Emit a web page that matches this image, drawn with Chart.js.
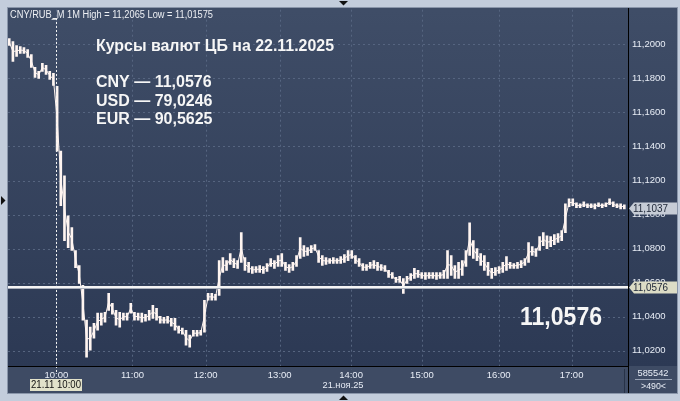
<!DOCTYPE html>
<html>
<head>
<meta charset="utf-8">
<script src="https://cdn.jsdelivr.net/npm/chart.js@4/dist/chart.umd.min.js"></script>
<style>
  html, body { margin: 0; padding: 0; background: #c3cddc; }
  canvas { display: block; }
</style>
</head>
<body>
<canvas id="c" width="680" height="401"></canvas>
<script>
// 1-minute CNY/RUB bars, sampled every 3rd bar (high / low)
const barStep = 3;
const highs = [
  11.2034, 11.2016, 11.1993, 11.1987, 11.1981, 11.1969, 11.1940, 11.1864, 11.1841, 11.1888,
  11.1876, 11.1841, 11.1829, 11.1753, 11.1373, 11.1227, 11.0993, 11.0923, 11.0789, 11.0701,
  11.0584, 11.0380, 11.0339, 11.0362, 11.0421, 11.0421, 11.0426, 11.0537, 11.0479, 11.0438,
  11.0426, 11.0421, 11.0421, 11.0479, 11.0426, 11.0421, 11.0421, 11.0415, 11.0438, 11.0467,
  11.0450, 11.0403, 11.0397, 11.0403, 11.0391, 11.0391, 11.0345, 11.0333, 11.0321, 11.0292,
  11.0321, 11.0321, 11.0321, 11.0497, 11.0537, 11.0537, 11.0532, 11.0730, 11.0748, 11.0730,
  11.0771, 11.0742, 11.0730, 11.0894, 11.0748, 11.0719, 11.0695, 11.0695, 11.0701, 11.0695,
  11.0713, 11.0742, 11.0730, 11.0760, 11.0771, 11.0719, 11.0707, 11.0719, 11.0760, 11.0865,
  11.0818, 11.0806, 11.0818, 11.0824, 11.0789, 11.0760, 11.0748, 11.0742, 11.0748, 11.0742,
  11.0754, 11.0765, 11.0789, 11.0789, 11.0760, 11.0742, 11.0713, 11.0707, 11.0719, 11.0730,
  11.0719, 11.0707, 11.0701, 11.0672, 11.0660, 11.0631, 11.0637, 11.0625, 11.0637, 11.0654,
  11.0684, 11.0672, 11.0660, 11.0660, 11.0660, 11.0660, 11.0660, 11.0660, 11.0672, 11.0789,
  11.0760, 11.0701, 11.0719, 11.0730, 11.0789, 11.0952, 11.0847, 11.0800, 11.0771, 11.0760,
  11.0719, 11.0684, 11.0689, 11.0695, 11.0719, 11.0754, 11.0719, 11.0713, 11.0719, 11.0730,
  11.0742, 11.0836, 11.0812, 11.0800, 11.0871, 11.0894, 11.0876, 11.0871, 11.0882, 11.0888,
  11.0906, 11.1063, 11.1093, 11.1093, 11.1069, 11.1063, 11.1075, 11.1063, 11.1063, 11.1063,
  11.1069, 11.1063, 11.1069, 11.1093, 11.1075, 11.1063, 11.1063, 11.1058
];
const lows = [
  11.1993, 11.1899, 11.1929, 11.1946, 11.1946, 11.1923, 11.1864, 11.1806, 11.1800, 11.1841,
  11.1823, 11.1794, 11.1759, 11.1373, 11.1052, 11.0847, 11.0806, 11.0789, 11.0689, 11.0596,
  11.0380, 11.0163, 11.0204, 11.0274, 11.0321, 11.0350, 11.0368, 11.0438, 11.0415, 11.0350,
  11.0339, 11.0380, 11.0380, 11.0421, 11.0380, 11.0380, 11.0368, 11.0374, 11.0380, 11.0391,
  11.0380, 11.0362, 11.0362, 11.0362, 11.0345, 11.0321, 11.0304, 11.0298, 11.0234, 11.0222,
  11.0286, 11.0286, 11.0292, 11.0310, 11.0497, 11.0497, 11.0497, 11.0526, 11.0660, 11.0672,
  11.0707, 11.0689, 11.0684, 11.0719, 11.0672, 11.0660, 11.0654, 11.0660, 11.0660, 11.0654,
  11.0666, 11.0695, 11.0684, 11.0695, 11.0695, 11.0672, 11.0660, 11.0672, 11.0695, 11.0742,
  11.0754, 11.0760, 11.0777, 11.0789, 11.0719, 11.0701, 11.0707, 11.0713, 11.0713, 11.0713,
  11.0713, 11.0719, 11.0730, 11.0742, 11.0713, 11.0695, 11.0672, 11.0672, 11.0684, 11.0684,
  11.0672, 11.0672, 11.0666, 11.0631, 11.0625, 11.0602, 11.0602, 11.0537, 11.0596, 11.0613,
  11.0625, 11.0631, 11.0625, 11.0619, 11.0625, 11.0625, 11.0619, 11.0625, 11.0625, 11.0625,
  11.0643, 11.0625, 11.0625, 11.0643, 11.0695, 11.0760, 11.0742, 11.0730, 11.0701, 11.0672,
  11.0643, 11.0625, 11.0643, 11.0654, 11.0660, 11.0672, 11.0684, 11.0684, 11.0684, 11.0689,
  11.0701, 11.0719, 11.0760, 11.0754, 11.0789, 11.0818, 11.0800, 11.0812, 11.0824, 11.0836,
  11.0847, 11.0894, 11.1046, 11.1052, 11.1040, 11.1040, 11.1046, 11.1040, 11.1040, 11.1034,
  11.1046, 11.1040, 11.1046, 11.1058, 11.1046, 11.1040, 11.1034, 11.1034
];

// time axis: hour labels and the bar number where each hour starts
const hourLabels = ['10:00', '11:00', '12:00', '13:00', '14:00', '15:00', '16:00', '17:00'];
const hourBars = [38.4, 100.4, 160, 220.3, 278.4, 336.2, 398.7, 458];
const priceTicks = [11.02, 11.04, 11.06, 11.08, 11.10, 11.12, 11.14, 11.16, 11.18, 11.20];

const cbRate = 11.0576;
const lastPrice = 11.1037;
const title = 'Курсы валют ЦБ на 22.11.2025';
const currencies = ['CNY', 'USD', 'EUR'];
const cbRates = ['11,0576', '79,0246', '90,5625'];

const FONT = '"Liberation Sans", Arial, sans-serif';
const fmt = v => v.toFixed(4).replace('.', ',');

const bars = highs.map((h, i) => ({ x: i * barStep, y: [lows[i], h] }));
const mids = highs.map((h, i) => ({ x: i * barStep, y: (lows[i] + h) / 2 }));

function tri(ctx, pts, color) {
    ctx.fillStyle = color;
    ctx.beginPath();
    ctx.moveTo(pts[0], pts[1]);
    ctx.lineTo(pts[2], pts[3]);
    ctx.lineTo(pts[4], pts[5]);
    ctx.closePath();
    ctx.fill();
}

const background = {
    id: 'background',
    beforeDraw(chart) {
        const ctx = chart.ctx;
        const a = chart.chartArea;
        ctx.save();
        ctx.fillStyle = '#c3cddc';
        ctx.fillRect(0, 0, 680, 401);
        const g = ctx.createLinearGradient(0, a.top, 0, a.bottom);
        g.addColorStop(0, '#3f4d67');
        g.addColorStop(1, '#2c3954');
        ctx.fillStyle = g;
        ctx.fillRect(8, 8, 669, a.bottom - 8);
        ctx.fillStyle = '#3e4b64';
        ctx.fillRect(8, a.bottom, 669, 393 - a.bottom);
        ctx.strokeStyle = '#8a96aa';
        ctx.lineWidth = 1;
        ctx.strokeRect(7.5, 7.5, 670, 386);
        ctx.restore();
    },
    beforeDatasetsDraw(chart) {
        const ctx = chart.ctx;
        const a = chart.chartArea;
        const xs = chart.scales.x, ys = chart.scales.y;
        ctx.save();
        ctx.strokeStyle = '#566580';
        ctx.lineWidth = 1;
        ctx.setLineDash([2, 3]);
        priceTicks.forEach(v => {
            const y = Math.round(ys.getPixelForValue(v)) + 0.5;
            ctx.beginPath(); ctx.moveTo(a.left, y); ctx.lineTo(a.right, y); ctx.stroke();
        });
        hourBars.forEach(v => {
            const x = Math.round(xs.getPixelForValue(v)) + 0.5;
            ctx.beginPath(); ctx.moveTo(x, a.top); ctx.lineTo(x, a.bottom + 4); ctx.stroke();
        });
        ctx.restore();
    }
};

const overlay = {
    id: 'overlay',
    afterDatasetsDraw(chart) {
        const ctx = chart.ctx;
        const a = chart.chartArea;
        const xs = chart.scales.x, ys = chart.scales.y;
        ctx.save();

        // CB rate level
        const yr = Math.round(ys.getPixelForValue(cbRate));
        ctx.fillStyle = '#f4f4f4';
        ctx.fillRect(a.left, yr - 1, a.right - a.left, 2);
        ctx.fillStyle = '#a9afbb';
        ctx.fillRect(a.left, yr + 1, a.right - a.left, 1);

        // crosshair at 10:00
        const xc = Math.round(xs.getPixelForValue(hourBars[0])) + 0.5;
        ctx.strokeStyle = '#f0f0f0';
        ctx.lineWidth = 1;
        ctx.setLineDash([2, 2]);
        ctx.beginPath(); ctx.moveTo(xc, 18); ctx.lineTo(xc, a.bottom + 6); ctx.stroke();
        ctx.setLineDash([]);
        ctx.beginPath(); ctx.moveTo(xc - 4, 18.5); ctx.lineTo(xc + 1, 18.5); ctx.stroke();

        // frame lines
        ctx.fillStyle = '#000';
        ctx.fillRect(a.right, 8, 1, 385);
        ctx.fillRect(8, a.bottom, a.right - 8, 1);
        ctx.fillStyle = '#273247';
        ctx.fillRect(624, a.bottom + 3, 1, 24);

        // header
        ctx.fillStyle = '#eef0f4';
        ctx.font = '10px ' + FONT;
        ctx.textBaseline = 'alphabetic';
        ctx.textAlign = 'left';
        ctx.fillText('CNY/RUB_M 1M High = 11,2065 Low = 11,01575', 10, 18, 203);

        // CB rates block
        ctx.fillStyle = '#f6f6f6';
        ctx.font = 'bold 16px ' + FONT;
        ctx.fillText(title, 96, 51, 238);
        currencies.forEach((c, i) => {
            ctx.fillText(c + ' — ' + cbRates[i], 96, 87 + i * 18.7, 117);
        });
        ctx.font = 'bold 25px ' + FONT;
        ctx.fillText(cbRates[0], 520, 325, 82);

        // price labels on the right axis
        const tag = (v, bg) => {
            const y = Math.round(ys.getPixelForValue(v));
            ctx.fillStyle = bg;
            ctx.fillRect(634, y - 5.5, 43, 12);
            tri(ctx, [629, y + 0.5, 634, y - 5.5, 634, y + 6.5], bg);
            ctx.fillStyle = '#1c2536';
            ctx.font = '10px ' + FONT;
            ctx.textBaseline = 'middle';
            ctx.fillText(fmt(v), 633, y + 1, 35);
        };
        tag(lastPrice, '#c6ccd6');
        tag(cbRate, '#dcdcc6');

        // bottom panel texts
        ctx.fillStyle = '#e2e2ca';
        ctx.fillRect(30, 379, 52, 12);
        ctx.fillStyle = '#111';
        ctx.textAlign = 'center';
        ctx.font = '10px ' + FONT;
        ctx.fillText('21.11 10:00', 56, 385.5, 50);
        ctx.fillStyle = '#e8edf6';
        ctx.font = '9.5px ' + FONT;
        ctx.fillText('21.ноя.25', 343, 385.5, 41);
        ctx.fillText('585542', 653, 373.5, 31);
        ctx.fillText('>490<', 653.5, 386, 25);
        ctx.fillStyle = '#9aa4b6';
        ctx.fillRect(635, 379, 37, 1);

        // marker triangles
        tri(ctx, [339, 1, 348, 1, 343.5, 5.5], '#111');
        tri(ctx, [339, 400, 348, 400, 343.5, 395.5], '#111');
        tri(ctx, [1, 196, 1, 205, 5.5, 200.5], '#111');
        ctx.restore();
    }
};

new Chart(document.getElementById('c'), {
    type: 'bar',
    data: {
        datasets: [{
            type: 'line',
            data: mids,
            borderColor: '#fff5f1',
            borderWidth: 1,
            pointRadius: 0,
            tension: 0
        }, {
            data: bars,
            backgroundColor: '#fff5f1',
            borderWidth: 0,
            barThickness: 2,
            grouped: false
        }]
    },
    options: {
        responsive: false,
        animation: false,
        devicePixelRatio: 1,
        layout: { padding: { left: 8, top: 8, right: 4, bottom: 8 } },
        plugins: { legend: { display: false }, tooltip: { enabled: false } },
        scales: {
            x: {
                type: 'linear',
                min: -1,
                max: 504,
                offset: false,
                grid: { display: false, drawTicks: false, tickLength: 0 },
                border: { display: false },
                afterBuildTicks: s => { s.ticks = hourBars.map(v => ({ value: v })); },
                afterFit: s => { s.height = 27; },
                ticks: {
                    autoSkip: false,
                    maxRotation: 0,
                    padding: 4,
                    color: '#e8edf6',
                    font: { family: FONT, size: 9.5 },
                    callback: v => hourLabels[hourBars.indexOf(v)]
                }
            },
            y: {
                position: 'right',
                min: 11.0111,
                max: 11.2203,
                grid: { display: false, drawTicks: false, tickLength: 0 },
                border: { display: false },
                afterBuildTicks: s => { s.ticks = priceTicks.map(v => ({ value: v })); },
                afterFit: s => { s.width = 48; },
                ticks: {
                    padding: 4,
                    color: '#e8edf6',
                    font: { family: FONT, size: 9.5 },
                    callback: v => fmt(v)
                }
            }
        }
    },
    plugins: [background, overlay]
});
</script>
</body>
</html>
